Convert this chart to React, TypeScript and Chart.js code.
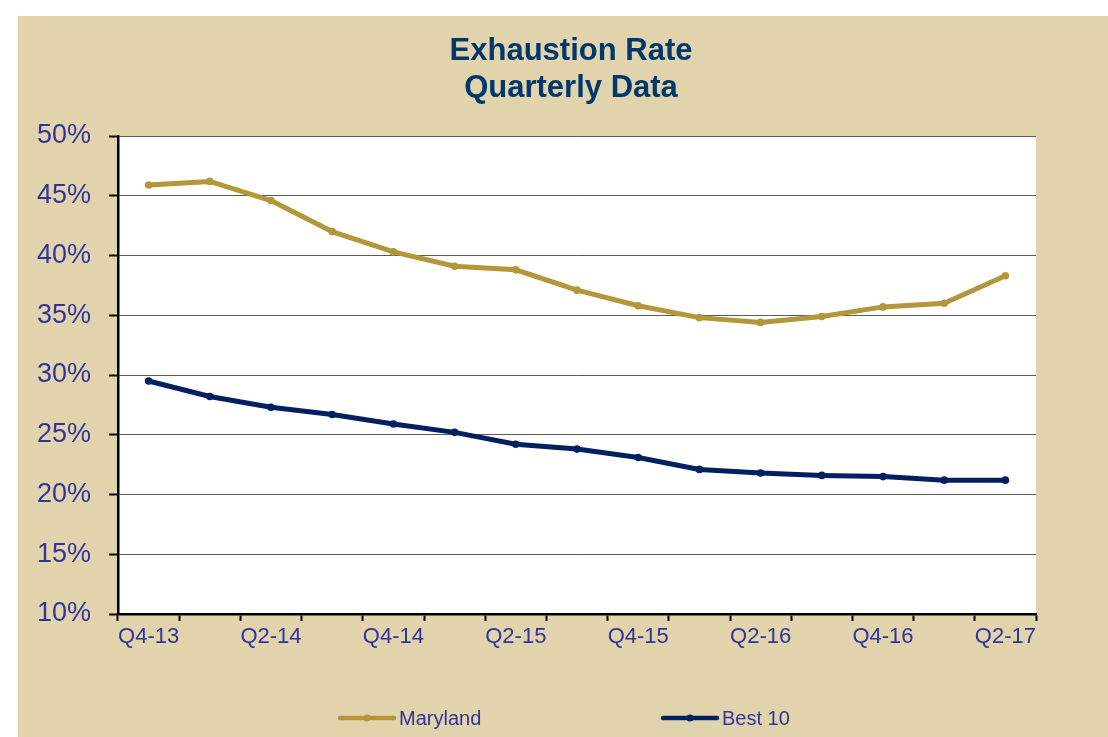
import React, { useEffect, useRef } from "react";
import { Chart, registerables } from "chart.js";

Chart.register(...registerables);

const quarters = [
  "Q4-13", "Q1-14", "Q2-14", "Q3-14", "Q4-14", "Q1-15", "Q2-15", "Q3-15",
  "Q4-15", "Q1-16", "Q2-16", "Q3-16", "Q4-16", "Q1-17", "Q2-17",
];
const maryland = [45.9, 46.2, 44.6, 42.0, 40.3, 39.1, 38.8, 37.1, 35.8, 34.8, 34.4, 34.9, 35.7, 36.0, 38.3];
const best10 = [29.5, 28.2, 27.3, 26.7, 25.9, 25.2, 24.2, 23.8, 23.1, 22.1, 21.8, 21.6, 21.5, 21.2, 21.2];
const seriesNames = ["Maryland", "Best 10"];
const seriesColors = ["#B3973A", "#002060"];
const titleLines = ["Exhaustion Rate", "Quarterly Data"];

const FONT = "'Liberation Sans', Arial, sans-serif";
const TEXT = "#333399";
const BG = "#E1D4AD";

export default function App() {
  const ref = useRef<HTMLCanvasElement | null>(null);

  useEffect(() => {
    document.body.style.margin = "0";
    const canvas = ref.current!;
    const plotBg = {
      id: "plotBg",
      beforeDraw(chart: any) {
        const { ctx, chartArea: a } = chart;
        ctx.save();
        ctx.fillStyle = "#ffffff";
        ctx.fillRect(a.left, a.top, a.right - a.left, a.bottom - a.top);
        ctx.restore();
      },
    };
    const customTitle = {
      id: "customTitle",
      afterDraw(chart: any) {
        const { ctx, chartArea: a } = chart;
        const cx = (a.left + a.right) / 2 - 6;
        ctx.save();
        ctx.fillStyle = "#00386B";
        ctx.font = `bold 31px ${FONT}`;
        ctx.textAlign = "center";
        ctx.textBaseline = "middle";
        titleLines.forEach((t, i) => ctx.fillText(t, cx, 35 + i * 37));
        ctx.restore();
      },
    };
    const customLegend = {
      id: "customLegend",
      afterDraw(chart: any) {
        const { ctx, width } = chart;
        const y = 702;
        const starts = [width / 2 - 223, width / 2 + 100];
        ctx.save();
        chart.data.datasets.forEach((ds: any, i: number) => {
          const x = starts[i];
          ctx.strokeStyle = ds.borderColor;
          ctx.lineWidth = 4.5;
          ctx.lineCap = "round";
          ctx.beginPath();
          ctx.moveTo(x, y);
          ctx.lineTo(x + 54, y);
          ctx.stroke();
          ctx.fillStyle = ds.borderColor;
          ctx.beginPath();
          ctx.arc(x + 27, y, 3.5, 0, Math.PI * 2);
          ctx.fill();
          ctx.fillStyle = TEXT;
          ctx.font = `20px ${FONT}`;
          ctx.textBaseline = "middle";
          ctx.textAlign = "left";
          ctx.fillText(ds.label, x + 59, y + 1);
        });
        ctx.restore();
      },
    };
    const chart = new Chart(canvas, {
      type: "line",
      data: {
        labels: quarters,
        datasets: [
          {
            label: seriesNames[0],
            data: maryland,
            borderColor: seriesColors[0],
            backgroundColor: seriesColors[0],
            borderWidth: 5,
            pointRadius: 3.8,
            pointBorderWidth: 0,
            tension: 0,
          },
          {
            label: seriesNames[1],
            data: best10,
            borderColor: seriesColors[1],
            backgroundColor: seriesColors[1],
            borderWidth: 5,
            pointRadius: 3.8,
            pointBorderWidth: 0,
            tension: 0,
          },
        ],
      },
      options: {
        animation: false,
        responsive: false,
        maintainAspectRatio: false,
        layout: { padding: { left: 0, right: 72, top: 120, bottom: 80 } },
        plugins: {
          legend: { display: false },
          tooltip: { enabled: false },
          title: { display: false },
        },
        scales: {
          x: {
            offset: true,
            grid: {
              offset: true,
              drawOnChartArea: false,
              drawTicks: true,
              tickLength: 7,
              tickColor: "#000",
              tickWidth: 2,
            },
            border: { color: "#000", width: 2.5 },
            ticks: {
              autoSkip: false,
              maxRotation: 0,
              minRotation: 0,
              color: TEXT,
              font: { family: FONT, size: 22 },
              padding: 3,
              callback: (_v: any, i: number) => (i % 2 === 0 ? quarters[i] : ""),
            },
            afterFit: (s: any) => {
              s.height = 43;
            },
          },
          y: {
            min: 10,
            max: 50,
            grid: {
              color: "#5a5a5a",
              lineWidth: 1,
              tickColor: "#000",
              tickWidth: 2,
              tickLength: 9,
            },
            border: { color: "#000", width: 2.5 },
            ticks: {
              stepSize: 5,
              color: TEXT,
              font: { family: FONT, size: 27 },
              padding: 18,
              callback: (v: any) => `${v}%`,
            },
            afterFit: (s: any) => {
              s.width = 100;
            },
          },
        },
      },
      plugins: [plotBg, customTitle, customLegend],
    });
    return () => chart.destroy();
  }, []);

  return (
    <div style={{ position: "relative", width: 1108, height: 737, background: "#fff" }}>
      <canvas
        ref={ref}
        width={1090}
        height={721}
        style={{ position: "absolute", left: 18, top: 16, width: 1090, height: 721, background: BG }}
      />
    </div>
  );
}
